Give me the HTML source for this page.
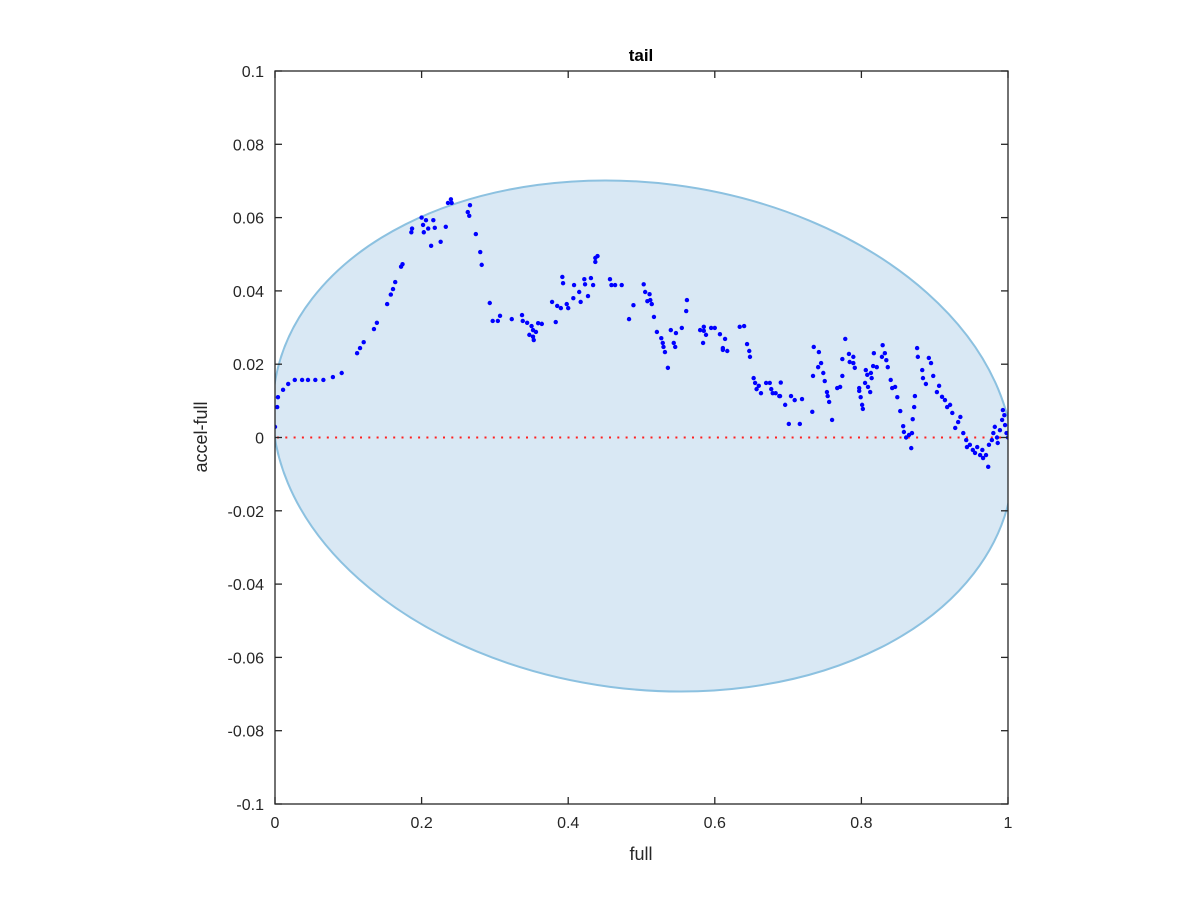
<!DOCTYPE html>
<html><head><meta charset="utf-8"><style>
body{margin:0;background:#fff;}
svg text{font-family:"Liberation Sans",Arial,sans-serif;fill:#262626;}
</style></head><body>
<svg id="chart" width="1200" height="900" xmlns="http://www.w3.org/2000/svg">
<defs><clipPath id="plotclip"><rect x="275" y="71" width="733" height="733"/></clipPath></defs>
<rect x="0" y="0" width="1200" height="900" fill="#fff"/>
<g clip-path="url(#plotclip)">
<ellipse cx="643" cy="436" rx="372" ry="253" transform="rotate(7.5 643 436)" fill="#d9e8f4" stroke="#8cc1e0" stroke-width="2"/>
<g id="zeroline"></g>
<g id="points"></g>
</g>
<g id="axes"></g>
<text x="641" y="61" text-anchor="middle" font-size="17" font-weight="bold" style="fill:#000">tail</text>
<text x="641" y="860" text-anchor="middle" font-size="18">full</text>
<text x="0" y="0" transform="translate(207,437) rotate(-90)" text-anchor="middle" font-size="18">accel-full</text>
</svg>
<script>
const xData = [0,0.003,0.004,0.011,0.018,0.027,0.037,0.045,0.055,0.066,0.079,0.091,0.112,0.116,0.121,0.135,0.139,0.153,0.158,0.161,0.164,0.172,0.174,0.186,0.187,0.2,0.202,0.203,0.206,0.209,0.213,0.216,0.218,0.226,0.233,0.236,0.24,0.241,0.263,0.265,0.266,0.274,0.28,0.282,0.293,0.297,0.304,0.307,0.323,0.337,0.338,0.344,0.347,0.35,0.352,0.352,0.353,0.356,0.359,0.364,0.378,0.383,0.385,0.39,0.392,0.393,0.398,0.4,0.407,0.408,0.415,0.417,0.422,0.423,0.427,0.431,0.434,0.437,0.437,0.44,0.457,0.459,0.464,0.473,0.483,0.489,0.503,0.505,0.511,0.508,0.512,0.514,0.517,0.521,0.527,0.529,0.53,0.532,0.536,0.54,0.544,0.546,0.547,0.555,0.561,0.562,0.58,0.584,0.585,0.585,0.588,0.595,0.6,0.607,0.611,0.611,0.614,0.617,0.634,0.64,0.644,0.647,0.648,0.653,0.655,0.657,0.66,0.663,0.67,0.675,0.677,0.679,0.683,0.688,0.689,0.69,0.696,0.701,0.704,0.709,0.716,0.719,0.733,0.734,0.735,0.742,0.741,0.745,0.748,0.75,0.753,0.754,0.756,0.76,0.767,0.771,0.774,0.774,0.778,0.783,0.784,0.789,0.789,0.791,0.797,0.797,0.799,0.801,0.802,0.805,0.806,0.808,0.809,0.812,0.813,0.814,0.816,0.817,0.821,0.828,0.829,0.832,0.834,0.836,0.84,0.842,0.846,0.849,0.853,0.857,0.858,0.861,0.865,0.868,0.869,0.87,0.872,0.873,0.876,0.877,0.883,0.884,0.888,0.892,0.895,0.898,0.903,0.906,0.91,0.914,0.917,0.921,0.924,0.928,0.932,0.935,0.939,0.943,0.944,0.948,0.952,0.955,0.958,0.962,0.965,0.966,0.97,0.973,0.974,0.978,0.98,0.982,0.985,0.986,0.989,0.992,0.993,0.995,0.996,0.998,1.0];
const yData = [0.0029,0.0083,0.011,0.013,0.0146,0.0157,0.0157,0.0157,0.0157,0.0157,0.0165,0.0176,0.023,0.0244,0.026,0.0296,0.0313,0.0364,0.039,0.0405,0.0424,0.0466,0.0473,0.056,0.057,0.06,0.058,0.056,0.0593,0.057,0.0523,0.0593,0.0572,0.0534,0.0575,0.064,0.065,0.064,0.0615,0.0605,0.0634,0.0555,0.0506,0.0471,0.0367,0.0318,0.0318,0.0332,0.0323,0.0334,0.0318,0.0313,0.028,0.0304,0.0293,0.0275,0.0266,0.0288,0.0312,0.031,0.037,0.0315,0.0359,0.0353,0.0438,0.0421,0.0364,0.0353,0.038,0.0416,0.0397,0.037,0.0432,0.0418,0.0386,0.0435,0.0416,0.049,0.0479,0.0495,0.0432,0.0416,0.0416,0.0416,0.0323,0.0361,0.0418,0.0397,0.0391,0.0372,0.0375,0.0364,0.0329,0.0288,0.0271,0.0258,0.0247,0.0233,0.019,0.0293,0.0258,0.0247,0.0285,0.0299,0.0345,0.0375,0.0293,0.0258,0.0302,0.0291,0.028,0.0299,0.0299,0.0282,0.0244,0.0239,0.0269,0.0236,0.0302,0.0304,0.0255,0.0236,0.022,0.0162,0.0149,0.0132,0.0141,0.0121,0.0149,0.0149,0.0132,0.0121,0.0121,0.0113,0.0113,0.015,0.0089,0.0037,0.0113,0.0102,0.0037,0.0105,0.007,0.0168,0.0247,0.0233,0.0192,0.0203,0.0176,0.0154,0.0124,0.0113,0.0097,0.0048,0.0135,0.0138,0.0168,0.0214,0.0269,0.0228,0.0206,0.022,0.0203,0.019,0.0135,0.0127,0.011,0.0089,0.0078,0.0149,0.0184,0.0171,0.0138,0.0124,0.0176,0.0162,0.0195,0.023,0.0192,0.022,0.0252,0.023,0.0211,0.0192,0.0157,0.0135,0.0138,0.011,0.0072,0.0031,0.0015,0,0.0007,-0.0029,0.0012,0.005,0.0083,0.0113,0.0244,0.022,0.0184,0.0162,0.0146,0.0217,0.0203,0.0168,0.0124,0.0141,0.0111,0.0102,0.0083,0.0089,0.0067,0.0026,0.0042,0.0056,0.0012,-0.0007,-0.0026,-0.002,-0.0034,-0.0042,-0.0026,-0.0048,-0.0034,-0.0056,-0.0048,-0.008,-0.002,-0.0007,0.0012,0.0029,0,-0.0015,0.002,0.0048,0.0075,0.0061,0.0034,0.0012,0];
const xTicks = [0,0.2,0.4,0.6,0.8,1];
const xTickLabels = ["0","0.2","0.4","0.6","0.8","1"];
const yTicks = [-0.1,-0.08,-0.06,-0.04,-0.02,0,0.02,0.04,0.06,0.08,0.1];
const yTickLabels = ["-0.1","-0.08","-0.06","-0.04","-0.02","0","0.02","0.04","0.06","0.08","0.1"];

const NS = "http://www.w3.org/2000/svg";
const L = 275, R = 1008, T = 71, B = 804;
function sx(v){ return L + (v - 0) / (1 - 0) * (R - L); }
function sy(v){ return B - (v + 0.1) / 0.2 * (B - T); }
function mk(tag, attrs){ const e = document.createElementNS(NS, tag); for (const k in attrs) e.setAttribute(k, attrs[k]); return e; }

const zl = document.getElementById('zeroline');
const zline = mk('line', {x1: sx(0) + 2, x2: sx(1), y1: sy(0), y2: sy(0), stroke: '#ff2020', 'stroke-width': 2, 'stroke-dasharray': '2 6.3'});


zl.appendChild(zline);

const pg = document.getElementById('points');
for (let i = 0; i < xData.length; i++) {
  const c = mk('circle', {cx: sx(xData[i]), cy: sy(yData[i]), r: 2.2, fill: '#0000ff'});
  
  
  pg.appendChild(c);
}

const ax = document.getElementById('axes');
const box = mk('rect', {x: L, y: T, width: R - L, height: B - T, fill: 'none', stroke: '#262626', 'stroke-width': 1.3});


ax.appendChild(box);
xTicks.forEach((v, i) => {
  const x = sx(v);
  const t1 = mk('line', {x1: x, x2: x, y1: B, y2: B - 7, stroke: '#262626', 'stroke-width': 1.3});
  
  
  ax.appendChild(t1);
  const t2 = mk('line', {x1: x, x2: x, y1: T, y2: T + 7, stroke: '#262626', 'stroke-width': 1.3});
  
  
  ax.appendChild(t2);
  const lb = mk('text', {x: x, y: B + 24, 'text-anchor': 'middle', 'font-size': 16});
  lb.textContent = xTickLabels[i];
  
  
  ax.appendChild(lb);
});
yTicks.forEach((v, i) => {
  const y = sy(v);
  const t1 = mk('line', {x1: L, x2: L + 7, y1: y, y2: y, stroke: '#262626', 'stroke-width': 1.3});
  
  
  ax.appendChild(t1);
  const t2 = mk('line', {x1: R, x2: R - 7, y1: y, y2: y, stroke: '#262626', 'stroke-width': 1.3});
  
  
  ax.appendChild(t2);
  const lb = mk('text', {x: L - 11, y: y + 6, 'text-anchor': 'end', 'font-size': 16});
  lb.textContent = yTickLabels[i];
  
  
  ax.appendChild(lb);
});
</script>
</body></html>
